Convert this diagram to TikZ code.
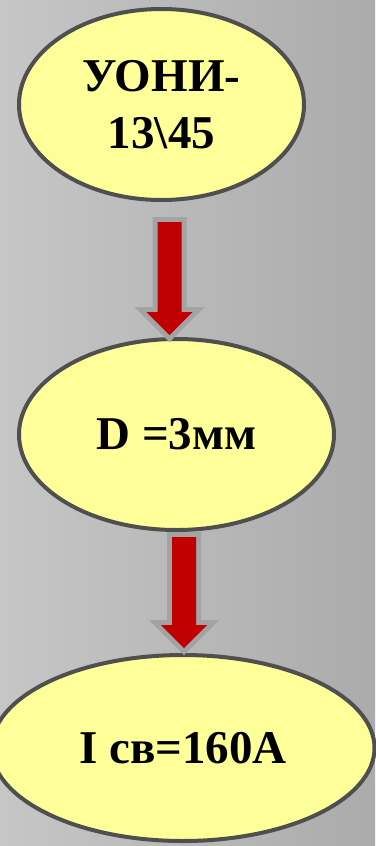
\documentclass[tikz,border=0pt]{standalone}
\usepackage{fontspec}
\setmainfont{Liberation Serif}
\usetikzlibrary{shapes.geometric, calc}
\definecolor{bgleft}{HTML}{C6C6C6}
\definecolor{bgright}{HTML}{ABABAB}
\definecolor{inkcolor}{HTML}{000000}
\definecolor{rimcolor}{HTML}{4F4F4F}
\definecolor{ovalfill}{HTML}{FFFF99}
\definecolor{arrowred}{HTML}{C00000}
\definecolor{arrowrim}{HTML}{A3A3A3}

\begin{document}
\begin{tikzpicture}[
  x=1pt, y=-1pt,
  every node/.style={font=\bfseries\fontsize{47}{57}\selectfont, text=inkcolor},
  align=center,
]

\tikzset{
  oval/.style={ellipse, draw=rimcolor, fill=ovalfill, line width=4pt,
    inner sep=0pt, minimum width=285pt, minimum height=191pt},
  blockarrow/.style={fill=arrowred, line join=miter,
    preaction={draw=arrowrim, line width=10pt, line join=miter}},
}

% #1 tail coordinate, #2 tip coordinate
\newcommand{\downblock}[2]{
  \path[blockarrow]
    ($(#1)+(-12,0)$) -- ($(#1)+(12,0)$) -- ($(#2)+(12,-23)$)
    -- ($(#2)+(23,-23)$) -- (#2) -- ($(#2)+(-23,-23)$)
    -- ($(#2)+(-12,-23)$) -- cycle;
}

% ---------------------------------------------------------------
% background
% ---------------------------------------------------------------
\useasboundingbox (0,0) rectangle (375,846);
\shade[left color=bgleft, right color=bgright] (0,0) rectangle (375,846);

% ---------------------------------------------------------------
% ovals
% ---------------------------------------------------------------
\node[oval]                                      (uoni) at (161.5,104.5) {УОНИ-\\13\textbackslash45};
\node[oval, minimum width=315pt]                 (diam) at (176.5,434.5) {D =3мм};
\node[oval, minimum width=383pt, minimum height=186pt] (curr) at (183,748) {I св=160А};

% ---------------------------------------------------------------
% arrows
% ---------------------------------------------------------------
\coordinate (tailA) at (169.5,222);
\coordinate (tipA)  at (169.5,335);
\coordinate (tailB) at (184,537);
\coordinate (tipB)  at (184,648);

\downblock{tailA}{tipA}
\downblock{tailB}{tipB}

\end{tikzpicture}
\end{document}
